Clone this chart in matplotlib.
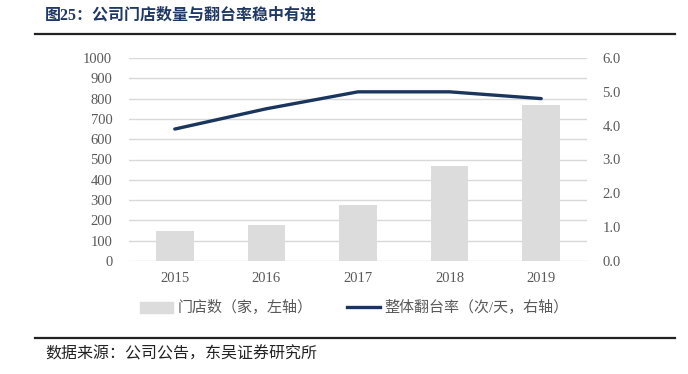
import matplotlib.pyplot as plt
from matplotlib.lines import Line2D
from matplotlib.patches import Patch

years = ['2015', '2016', '2017', '2018', '2019']
stores = [148, 178, 275, 468, 770]
turnover = [3.9, 4.5, 5.0, 5.0, 4.8]

cjk = ['Liberation Serif', 'Noto Sans CJK SC']
grey = '#595959'
navy = '#1B365D'
bar_col = '#DCDCDC'

fig = plt.figure(figsize=(6.88, 3.74), dpi=100)
ax = fig.add_axes([129 / 688, 1 - 261 / 374, 458 / 688, 203 / 374])
x = list(range(len(years)))

ax.bar(x, stores, width=0.41, color=bar_col, zorder=2)
ax.set_ylim(0, 1000)
ax.set_yticks(range(0, 1001, 100))
ax.set_xlim(-0.5, 4.5)
ax.set_xticks(x)
ax.set_xticklabels(years)
ax.grid(axis='y', color='#D9D9D9', linewidth=1, zorder=0)
for s in ax.spines.values():
    s.set_visible(False)
ax.tick_params(axis='both', length=0, labelsize=10.5, labelcolor=grey)
ax.tick_params(axis='y', pad=12)
ax.tick_params(axis='x', pad=8)
for lab in ax.get_xticklabels() + ax.get_yticklabels():
    lab.set_family(cjk)

ax2 = ax.twinx()
ax2.plot(x, turnover, color=navy, linewidth=2.4, solid_capstyle='round', zorder=3)
ax2.set_ylim(0, 6)
ax2.set_yticks([0, 1, 2, 3, 4, 5, 6])
ax2.set_yticklabels(['%.1f' % v for v in [0, 1, 2, 3, 4, 5, 6]])
for s in ax2.spines.values():
    s.set_visible(False)
ax2.tick_params(axis='y', length=0, labelsize=10.5, labelcolor=grey, pad=11)
for lab in ax2.get_yticklabels():
    lab.set_family(cjk)

handles = [Patch(color=bar_col), Line2D([], [], color=navy, linewidth=2.4)]
labels = ['门店数（家，左轴）', '整体翻台率（次/天，右轴）']
leg = fig.legend(handles, labels, loc='center', bbox_to_anchor=(0.515, 1 - 308 / 374),
                 ncol=2, frameon=False, prop={'family': cjk, 'size': 10.8},
                 handlelength=2.2, handleheight=0.7, handletextpad=0.3, columnspacing=2.3)
for t in leg.get_texts():
    t.set_color(grey)

fig.text(45 / 688, 1 - 16 / 374, '图25：公司门店数量与翻台率稳中有进', family=cjk,
         fontsize=11.5, weight='bold', color='#1F3864', va='center', ha='left')
fig.add_artist(Line2D([35 / 688, 675 / 688], [1 - 34 / 374] * 2, color='#222222', linewidth=1.6))
fig.add_artist(Line2D([35 / 688, 675 / 688], [1 - 338 / 374] * 2, color='#222222', linewidth=1.6))
fig.text(45 / 688, 1 - 355 / 374, '数据来源：公司公告，东吴证券研究所', family=cjk,
         fontsize=11.5, color='#222222', va='center', ha='left')

fig.savefig('out.png', dpi=100)
